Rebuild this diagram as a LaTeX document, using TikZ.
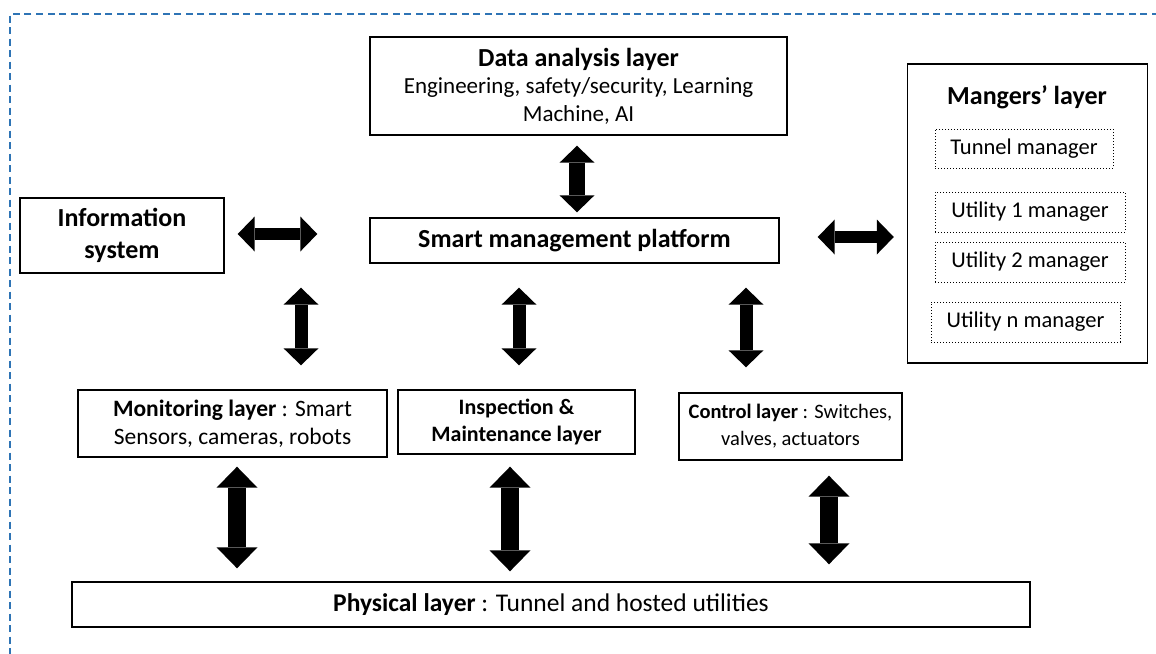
\documentclass[tikz,border=0pt]{standalone}
\usepackage{fontspec}
\setmainfont{Carlito}
\usetikzlibrary{arrows.meta}
\definecolor{frameblue}{RGB}{46,116,181}
\tikzset{
  box/.style={draw=black, line width=1.4pt, inner sep=0pt, align=center, font=\fontsize{23}{27}\selectfont},
  dbox/.style={draw=black, dotted, line width=1pt, inner sep=0pt, align=center, font=\fontsize{22.5}{26}\selectfont},
  arrA/.style={line width=13pt, {Triangle[width=35pt,length=17pt,line width=0pt]}-{Triangle[width=35pt,length=17pt,line width=0pt]}},
  arrB/.style={line width=18pt, {Triangle[width=41pt,length=21pt,line width=0pt]}-{Triangle[width=41pt,length=21pt,line width=0pt]}},
}
\begin{document}
\begin{tikzpicture}[x=1pt,y=-1pt]
\useasboundingbox (0,0) rectangle (1156,653);
\clip (0,0) rectangle (1156,653);
\draw[frameblue, line width=1.5pt, dash pattern=on 7pt off 4.5pt] (1170,14) -- (10,14) -- (10,670);

\node[box, minimum width=417pt, minimum height=98pt, font=\fontsize{23}{27.5}\selectfont] (data) at (578.5,86)
  {{\fontsize{26}{27.5}\selectfont\bfseries Data analysis layer}\\Engineering, safety/security, Learning\\Machine, AI};
\node[box, minimum width=204pt, minimum height=75pt, font=\fontsize{26}{32}\selectfont\bfseries] (info) at (122,235.5) {Information\\system};
\node[box, minimum width=409pt, minimum height=45pt, font=\fontsize{26}{30}\selectfont\bfseries] (smart) at (574.5,240.5) {Smart management platform};

\node[box, minimum width=240pt, minimum height=299pt] (mgr) at (1027.5,213.5) {};
\node[font=\fontsize{26}{30}\selectfont\bfseries, inner sep=0pt] (mgrt) at (1027,97) {Mangers’ layer};
\node[dbox, minimum width=178pt, minimum height=39pt] (tun) at (1024,148.5) {Tunnel manager};
\node[dbox, minimum width=190pt, minimum height=40pt] (u1) at (1030,212) {Utility 1 manager};
\node[dbox, minimum width=190pt, minimum height=40pt] (u2) at (1030,262) {Utility 2 manager};
\node[dbox, minimum width=189pt, minimum height=40pt] (un) at (1025.5,322) {Utility n manager};

\node[box, minimum width=309pt, minimum height=67pt, font=\fontsize{23.5}{28}\selectfont] (mon) at (232.5,423.5)
  {\textbf{Monitoring layer} : Smart\\Sensors, cameras, robots};
\node[box, minimum width=237pt, minimum height=64pt, font=\fontsize{22}{27}\selectfont\bfseries] (insp) at (516.5,422)
  {\raisebox{-2pt}{Inspection \&}\\\raisebox{-2pt}{Maintenance layer}};
\node[box, minimum width=223pt, minimum height=67pt, font=\fontsize{20.5}{27}\selectfont] (ctrl) at (790.5,426.5)
  {\textbf{Control layer} : Switches,\\valves, actuators};
\node[box, minimum width=958pt, minimum height=45pt, font=\fontsize{25.5}{28}\selectfont] (phys) at (551,604.5)
  {\textbf{Physical layer} : Tunnel and hosted utilities};

% arrows
\draw[arrA, line width=16pt, shorten <=10pt, shorten >=5pt] (data.south -| 577,0) -- (smart.north -| 577,0);
\draw[arrA, line width=12pt, shorten <=13pt, shorten >=52pt] (info.east |- 0,234) -- (smart.west |- 0,234);
\draw[arrA, line width=12pt, shorten <=38pt, shorten >=13pt] (smart.east |- 0,237) -- (mgr.west |- 0,237);
\draw[arrA, shorten <=24pt, shorten >=24pt] (smart.south -| 301,0) -- (mon.north -| 301,0);
\draw[arrA, shorten <=24pt, shorten >=24pt] (smart.south -| 519,0) -- (insp.north -| 519,0);
\draw[arrA, shorten <=24pt, shorten >=25pt] (smart.south -| 746,0) -- (ctrl.north -| 746,0);
\draw[arrB, shorten <=9pt, shorten >=13pt] (mon.south -| 237,0) -- (phys.north -| 237,0);
\draw[arrB, shorten <=12pt, shorten >=10pt] (insp.south -| 510,0) -- (phys.north -| 510,0);
\draw[arrB, shorten <=15pt, shorten >=17pt] (ctrl.south -| 829,0) -- (phys.north -| 829,0);
\end{tikzpicture}
\end{document}
